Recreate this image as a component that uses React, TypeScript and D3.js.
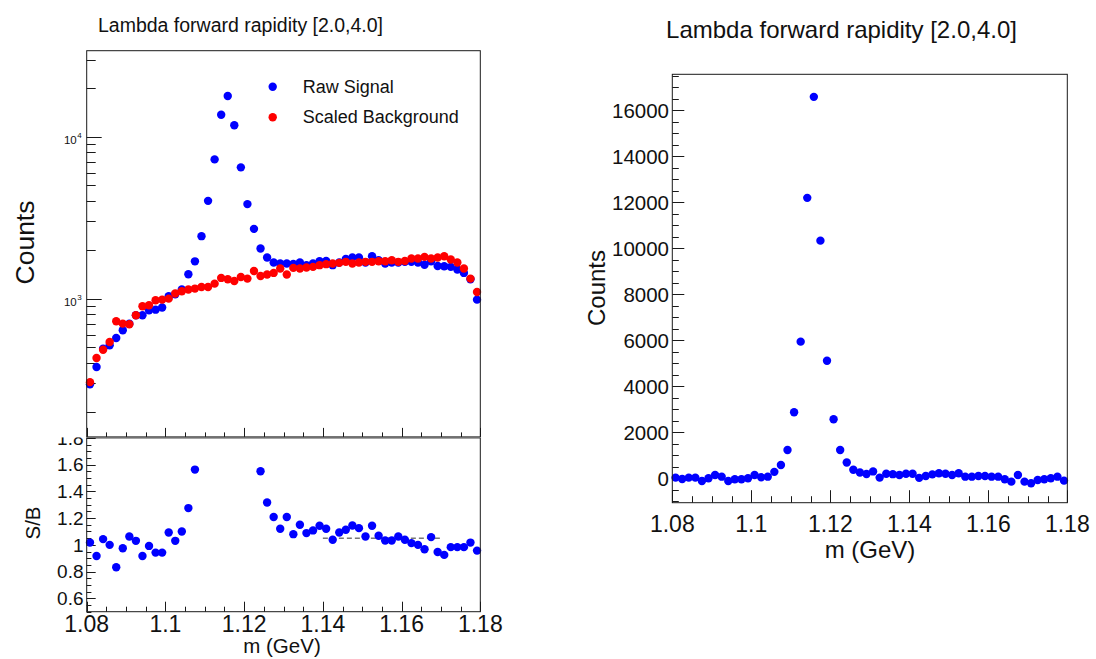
import React from 'react';
import * as d3 from 'd3';

// ---------------- data ----------------
const N_BINS = 60;
const M_LOW = 1.08;
const M_HIGH = 1.18;

const rawSignal = [
  296, 378, 490, 515, 571, 638, 700, 789, 789, 847,
  855, 881, 1036, 1065, 1138, 1416, 1700, 2432, 4018, 7247,
  13680, 17860, 11770, 6470, 3837, 2698, 2040, 1795, 1671, 1648,
  1648, 1640, 1671, 1610, 1648, 1703, 1710, 1610, 1671, 1757,
  1795, 1795, 1671, 1828, 1726, 1648, 1671, 1671, 1688, 1688,
  1671, 1620, 1703, 1592, 1585, 1571, 1514, 1442, 1318, 986,
];

const scaledBackground = [
  305, 430, 484, 540, 725, 701, 695, 789, 897, 910,
  977, 986, 1000, 1075, 1111, 1138, 1154, 1181, 1181, 1238,
  1343, 1318, 1286, 1361, 1330, 1483, 1381, 1409, 1442, 1535,
  1409, 1549, 1535, 1557, 1571, 1610, 1633, 1648, 1663, 1688,
  1648, 1671, 1688, 1688, 1703, 1703, 1726, 1688, 1710, 1770,
  1770, 1811, 1770, 1795, 1828, 1745, 1671, 1535, 1330, 1100,
];

const signalOverBackground: (number | null)[] = [
  1.017, 0.917, 1.043, 1.0, 0.833, 0.975, 1.062, 1.03, 0.917, 0.992,
  0.942, 0.942, 1.092, 1.03, 1.1, 1.275, 1.563, null, null, null,
  null, null, null, null, null, null, 1.55, 1.317, 1.208, 1.12,
  1.208, 1.08, 1.15, 1.088, 1.108, 1.143, 1.12, 1.038, 1.092, 1.113,
  1.145, 1.125, 1.063, 1.143, 1.068, 1.033, 1.033, 1.063, 1.038, 1.013,
  1.0, 0.967, 1.058, 0.947, 0.925, 0.983, 0.983, 0.983, 1.017, 0.957,
];

const subtractedSignal = [
  29, -29, 29, 29, -116, 0, 145, 72, -116, -43,
  -43, 0, 145, 43, 72, 280, 580, 1230, 2870, 5940,
  12190, 16580, 10330, 5110, 2565, 1230, 690, 375, 250, 190,
  300, 30, 200, 180, 145, 200, 200, 20, 100, 170,
  217, 200, 145, 217, 72, 72, 101, 101, 72, 72,
  -43, -145, 145, -145, -217, -72, -43, 0, 72, -101,
];

const fitRange = [1.14, 1.17];
const fitLevel = 1.05;

const massTicks = [1.08, 1.1, 1.12, 1.14, 1.16, 1.18];
const massTickLabels = ['1.08', '1.1', '1.12', '1.14', '1.16', '1.18'];
const sbTicks = [0.6, 0.8, 1.0, 1.2, 1.4, 1.6, 1.8];
const sbTickLabels = ['0.6', '0.8', '1', '1.2', '1.4', '1.6', '1.8'];
const countTicks = [0, 2000, 4000, 6000, 8000, 10000, 12000, 14000, 16000];
const countTickLabels = ['0', '2000', '4000', '6000', '8000', '10000', '12000', '14000', '16000'];
const logDecades = [3, 4];

const titleText = 'Lambda forward rapidity [2.0,4.0]';
const legendLabels = ['Raw Signal', 'Scaled Background'];

// ---------------- style ----------------
const FONT = "'Liberation Sans', Arial, Helvetica, sans-serif";
const AX = '#1a1a1a';
const BLUE = '#0000ff';
const RED = '#ff0000';
const R = 4.2;

const binW = (M_HIGH - M_LOW) / N_BINS;
const binCenters = d3.range(N_BINS).map((i) => M_LOW + (i + 0.5) * binW);

// layout
const L = { x0: 86.7, x1: 480.3 };
const TOP = { y0: 50.7, y1: 436.9 };
const BOT = { y0: 437.9, y1: 611.7 };
const RP = { x0: 672.3, x1: 1067.3, y0: 74.3, y1: 502.7 };

const xLeft = d3.scaleLinear().domain([M_LOW, M_HIGH]).range([L.x0, L.x1]);
const yLog = d3.scaleLog().domain([140, 34000]).range([TOP.y1, TOP.y0]);
const ySB = d3.scaleLinear().domain([0.5, 1.8]).range([BOT.y1, BOT.y0]);
const xRight = d3.scaleLinear().domain([M_LOW, M_HIGH]).range([RP.x0, RP.x1]);
const yRight = d3.scaleLinear().domain([-1060, 17560]).range([RP.y1, RP.y0]);

const minorMass = d3.range(0, 21).map((k) => M_LOW + k * 0.005);

function XTicks({ scale, y, major, minor }: { scale: any; y: number; major: number; minor: number }) {
  return (
    <g stroke={AX} strokeWidth={1}>
      {minorMass.map((v, k) => {
        const isMajor = k % 4 === 0;
        const x = Math.round(scale(v)) + 0.5;
        const len = isMajor ? major : minor;
        return <line key={k} x1={x} x2={x} y1={y} y2={y - len} />;
      })}
    </g>
  );
}

export default function App() {
  const logTicks: { v: number; major: boolean }[] = [];
  [2, 3, 4].forEach((d) => {
    for (let m = 1; m <= 9; m++) {
      const v = m * Math.pow(10, d);
      if (v >= 140 && v <= 34000) logTicks.push({ v, major: m === 1 });
    }
  });
  const sbMinor = d3.range(0, 27).map((k) => ({ v: 0.5 + k * 0.05, major: k % 4 === 2 }));
  const rMinor = d3.range(-1000, 17501, 500);

  return (
    <div style={{ position: 'absolute', left: 0, top: 0 }}>
      <svg width={1096} height={659} style={{ display: 'block', background: '#fff' }} fontFamily={FONT}>
        <rect x={0} y={0} width={1096} height={659} fill="#fff" />

        {/* ---------- bottom-left pad (S/B) ---------- */}
        <g>
          {sbTicks.map((v, k) => (
            <text key={k} x={83.5} y={ySB(v)} dy="0.35em" textAnchor="end" fontSize={19} fill="#111">
              {sbTickLabels[k]}
            </text>
          ))}
          <g stroke={AX} strokeWidth={1}>
            {sbMinor.map((t, k) => {
              const y = Math.round(ySB(t.v)) + 0.5;
              return <line key={k} x1={L.x0} x2={L.x0 + (t.major ? 9 : 4.7)} y1={y} y2={y} />;
            })}
          </g>
          <XTicks scale={xLeft} y={BOT.y1} major={10} minor={5} />
          <line
            x1={xLeft(fitRange[0])}
            x2={xLeft(fitRange[1])}
            y1={ySB(fitLevel)}
            y2={ySB(fitLevel)}
            stroke="#333"
            strokeWidth={1}
            strokeDasharray="5,3"
          />
          {binCenters.map((m, i) => {
            const v = signalOverBackground[i];
            if (v === null || v > 1.8 || v < 0.5) return null;
            return <circle key={i} cx={xLeft(m)} cy={ySB(v)} r={R} fill={BLUE} />;
          })}
          <rect x={L.x0} y={BOT.y0} width={L.x1 - L.x0} height={BOT.y1 - BOT.y0} fill="none" stroke={AX} strokeWidth={1} />
          {massTicks.map((v, k) => (
            <text key={k} x={xLeft(v)} y={631.5} textAnchor="middle" fontSize={23} fill="#111">
              {massTickLabels[k]}
            </text>
          ))}
          <text x={282} y={653} textAnchor="middle" fontSize={20.5} fill="#111">m (GeV)</text>
          <text transform={`translate(40,523) rotate(-90)`} textAnchor="middle" fontSize={20.5} fill="#111">S/B</text>
        </g>

        {/* ---------- top-left pad (log) ---------- */}
        <g>
          <rect x={0} y={0} width={560} height={437.4} fill="#fff" />
          <text x={240.5} y={31.5} textAnchor="middle" fontSize={19.5} fill="#111">{titleText}</text>
          <g stroke={AX} strokeWidth={1}>
            {logTicks.map((t, k) => {
              const y = Math.round(yLog(t.v)) + 0.5;
              return <line key={k} x1={L.x0} x2={L.x0 + (t.major ? 15 : 9)} y1={y} y2={y} />;
            })}
          </g>
          {logDecades.map((d) => (
            <text key={d} x={76.7} y={yLog(Math.pow(10, d)) + 7} textAnchor="end" fontSize={11.5} fill="#111">
              10
            </text>
          ))}
          {logDecades.map((d) => (
            <text key={'e' + d} x={77.2} y={yLog(Math.pow(10, d)) + 1.5} textAnchor="start" fontSize={8} fill="#111">
              {d}
            </text>
          ))}
          <XTicks scale={xLeft} y={TOP.y1} major={9} minor={4.5} />
          {binCenters.map((m, i) => (
            <circle key={'s' + i} cx={xLeft(m)} cy={yLog(rawSignal[i])} r={R} fill={BLUE} />
          ))}
          {binCenters.map((m, i) => (
            <circle key={'b' + i} cx={xLeft(m)} cy={yLog(scaledBackground[i])} r={R} fill={RED} />
          ))}
          <rect x={L.x0} y={TOP.y0} width={L.x1 - L.x0} height={TOP.y1 - TOP.y0} fill="none" stroke={AX} strokeWidth={1} />
          <text transform={`translate(34,242.5) rotate(-90)`} textAnchor="middle" fontSize={26.5} fill="#111">Counts</text>
          <circle cx={272.7} cy={86.7} r={R} fill={BLUE} />
          <circle cx={272.7} cy={117.3} r={R} fill={RED} />
          <text x={302.7} y={93} fontSize={18} fill="#111">{legendLabels[0]}</text>
          <text x={302.7} y={123} fontSize={18} fill="#111">{legendLabels[1]}</text>
        </g>

        {/* ---------- right pad ---------- */}
        <g>
          <text x={841.5} y={38} textAnchor="middle" fontSize={24} fill="#111">{titleText}</text>
          <g stroke={AX} strokeWidth={1}>
            {rMinor.map((v, k) => {
              const y = Math.round(yRight(v)) + 0.5;
              const major = v % 2000 === 0;
              return <line key={k} x1={RP.x0} x2={RP.x0 + (major ? 12 : 6.5)} y1={y} y2={y} />;
            })}
          </g>
          {countTicks.map((v, k) => (
            <text key={k} x={669} y={yRight(v)} dy="0.36em" textAnchor="end" fontSize={20.5} fill="#111">
              {countTickLabels[k]}
            </text>
          ))}
          <XTicks scale={xRight} y={RP.y1} major={12.5} minor={6.5} />
          {binCenters.map((m, i) => (
            <circle key={i} cx={xRight(m)} cy={yRight(subtractedSignal[i])} r={R} fill={BLUE} />
          ))}
          <rect x={RP.x0} y={RP.y0} width={RP.x1 - RP.x0} height={RP.y1 - RP.y0} fill="none" stroke={AX} strokeWidth={1} />
          {massTicks.map((v, k) => (
            <text key={k} x={xRight(v)} y={531.5} textAnchor="middle" fontSize={23} fill="#111">
              {massTickLabels[k]}
            </text>
          ))}
          <text x={870} y={558} textAnchor="middle" fontSize={24} fill="#111">m (GeV)</text>
          <text transform={`translate(605,288) rotate(-90)`} textAnchor="middle" fontSize={24} fill="#111">Counts</text>
        </g>
      </svg>
    </div>
  );
}
